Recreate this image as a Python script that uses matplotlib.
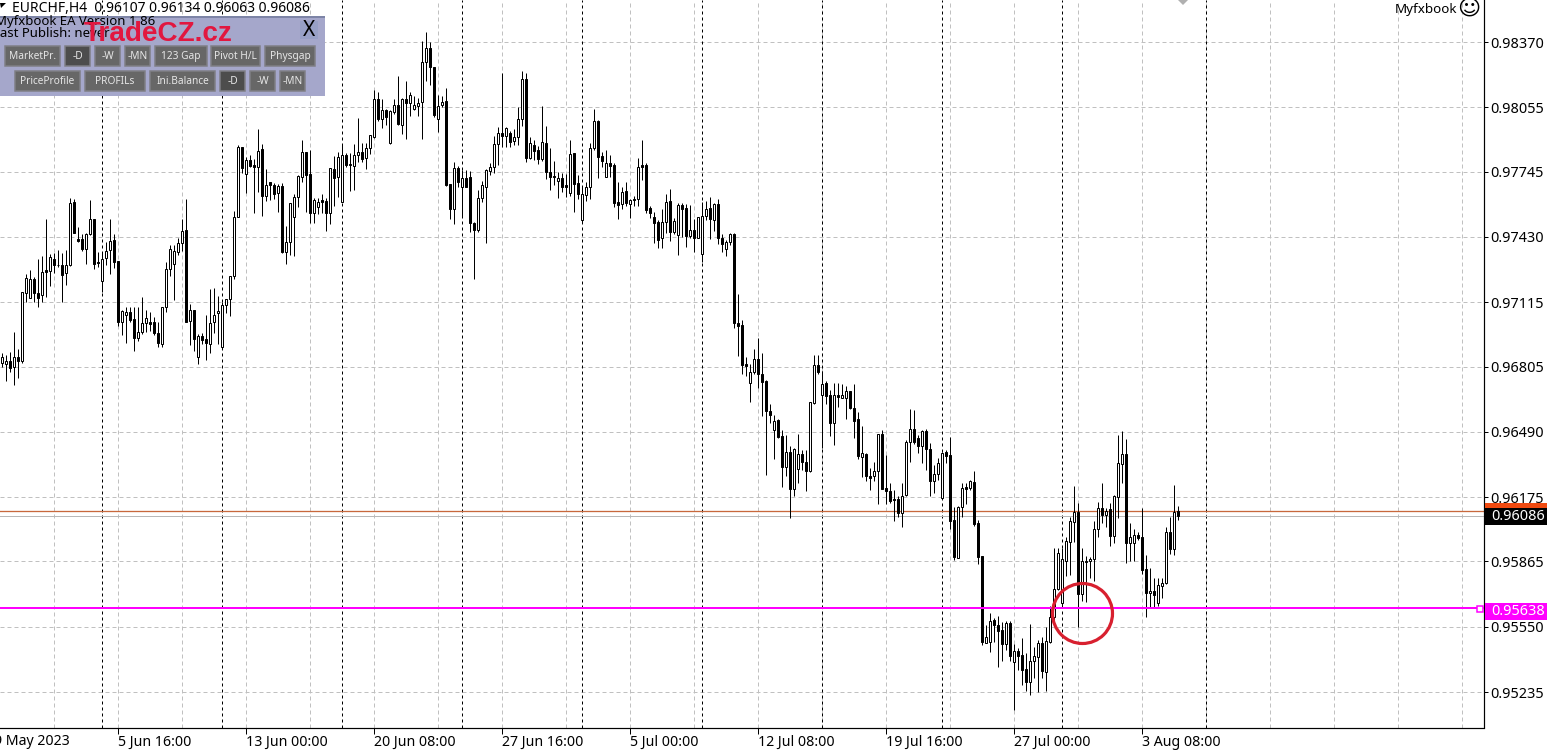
# -*- coding: utf-8 -*-
import matplotlib
matplotlib.use('Agg')
from matplotlib import pyplot as plt
from matplotlib.patches import Rectangle, Circle, Polygon

plt.rcParams['font.family'] = ['Noto Sans', 'DejaVu Sans']

# EURCHF H4 candles, prices in points (1e-5)
opens = [
    96823,96818,96834,96804,96849,96833,97162,97134,97225,97162,
    97148,97270,97264,97326,97297,97297,97254,97295,97597,97418,
    97418,97370,97442,97515,97307,97220,97330,97367,97415,97312,
    97021,97052,97066,97032,96942,96974,97013,97018,97018,96965,
    96916,97090,97277,97302,97359,97399,97466,97023,97080,96852,
    96952,96936,96916,97021,97061,96900,97100,97129,97244,97528,
    97862,97732,97801,97777,97769,97852,97627,97693,97683,97643,
    97675,97359,97407,97528,97621,97720,97838,97733,97547,97576,
    97606,97603,97547,97756,97720,97601,97824,97779,97774,97827,
    97838,97812,97857,97914,98094,97997,98042,97881,98033,98065,
    97971,98094,98078,98045,98061,98082,98275,98340,98248,97997,
    98065,98084,97685,97566,97761,97672,97716,97717,97499,97463,
    97616,97672,97750,97766,97877,97930,97917,97930,97894,97914,
    97997,98192,97812,97872,97849,97807,97881,97741,97722,97698,
    97714,97680,97643,97833,97688,97513,97634,97669,97857,97987,
    97820,97721,97785,97775,97598,97587,97650,97587,97614,97611,
    97775,97775,97568,97524,97502,97423,97500,97603,97455,97441,
    97584,97569,97436,97463,97423,97346,97532,97568,97513,97587,
    97423,97374,97406,97442,97016,97003,96816,96726,96778,96839,
    96771,96734,96591,96501,96545,96472,96321,96395,96212,96313,
    96381,96345,96299,96628,96813,96669,96728,96667,96534,96670,
    96654,96654,96685,96607,96550,96370,96382,96275,96275,96302,
    96482,96217,96206,96164,96164,96099,96185,96439,96506,96458,
    96423,96492,96405,96254,96289,96173,96391,96378,96065,95883,
    96129,96222,96219,96248,96049,95891,95473,95478,95581,95560,
    95534,95467,95570,95381,95433,95414,95344,95285,95386,95402,
    95473,95333,95478,95595,95730,95663,95869,95960,96057,96105,
    95706,95864,95865,95875,96020,96124,96090,96116,95989,96177,
    96333,96381,95955,95955,95991,95981,95827,95714,95724,95666,
    95746,95762,96005,95926,96107]
highs = [
    96868,96860,96873,96970,96892,97166,97251,97270,97235,97326,
    97338,97515,97346,97354,97367,97355,97367,97616,97611,97476,
    97444,97450,97608,97519,97359,97359,97407,97515,97444,97312,
    97077,97090,97093,97093,97093,97142,97077,97068,97045,97021,
    97090,97310,97392,97391,97423,97516,97611,97106,97080,96961,
    96968,97053,97180,97182,97145,97117,97132,97244,97555,97873,
    97865,97817,97825,97806,97950,97878,97756,97693,97688,97685,
    97688,97483,97592,97637,97728,97897,97838,97849,97616,97616,
    97637,97616,97765,97820,97838,97873,97836,97833,97877,98002,
    97881,97885,97920,98139,98131,98094,98045,98042,98094,98206,
    98098,98182,98129,98110,98098,98375,98417,98369,98248,98114,
    98111,98147,97685,97793,97772,97753,97753,97750,97502,97656,
    97700,97756,97788,97917,97959,98219,97959,97942,97949,98058,
    98230,98219,97910,97897,97868,98061,97965,97860,97796,97745,
    97737,97733,97897,97833,97729,97672,97696,97885,98045,97994,
    97841,97849,97825,97788,97696,97672,97696,97611,97627,97809,
    97897,97785,97579,97552,97512,97563,97637,97659,97520,97595,
    97595,97587,97584,97515,97528,97597,97605,97621,97592,97611,
    97443,97415,97450,97450,97157,97029,96849,96816,96892,96945,
    96868,96739,96624,96570,96553,96501,96474,96421,96410,96482,
    96402,96402,96635,96863,96860,96784,96736,96691,96726,96726,
    96723,96712,96685,96720,96587,96517,96386,96318,96344,96482,
    96498,96378,96241,96209,96183,96241,96453,96599,96595,96474,
    96498,96506,96434,96329,96366,96394,96402,96463,96126,96132,
    96245,96245,96258,96303,96065,95891,95558,95615,95590,95603,
    95574,95576,95578,95467,95446,95494,95422,95563,95454,95486,
    95502,95550,95650,95931,95928,95931,95984,96081,96229,96148,
    95928,95891,95888,96061,96153,96242,96124,96145,96185,96475,
    96494,96454,96049,96021,96008,96121,95896,95832,95783,95783,
    95783,96033,96078,96233,96134]
lows = [
    96804,96736,96780,96715,96748,96820,97117,97134,97117,97090,
    97117,97142,97195,97257,97283,97117,97198,97289,97447,97407,
    97363,97299,97439,97275,97286,97166,97294,97251,97278,97000,
    96957,96920,97021,96881,96929,96961,96973,96978,96957,96900,
    96900,97069,97241,97125,97342,97363,97021,96908,96881,96817,
    96913,96836,96871,96965,96913,96888,97061,97048,97225,97524,
    97737,97643,97769,97547,97648,97531,97605,97608,97613,97552,
    97354,97302,97343,97339,97576,97696,97552,97495,97499,97540,
    97544,97460,97492,97579,97621,97598,97769,97653,97656,97790,
    97793,97758,97830,97905,97991,97957,97970,97878,98023,97970,
    97926,97904,98013,98042,98013,97901,98184,98163,98010,97938,
    98058,97676,97516,97492,97669,97528,97669,97454,97225,97455,
    97600,97399,97729,97737,97777,97862,97862,97862,97873,97873,
    97965,97793,97804,97801,97782,97798,97712,97656,97680,97618,
    97648,97621,97627,97552,97611,97500,97605,97611,97849,97716,
    97769,97721,97721,97576,97516,97565,97579,97523,97579,97579,
    97704,97547,97520,97402,97375,97375,97447,97412,97444,97343,
    97428,97383,97423,97359,97423,97310,97512,97421,97460,97394,
    97358,97339,97390,96993,96857,96768,96760,96635,96768,96702,
    96567,96281,96534,96358,96458,96225,96276,96075,96181,96244,
    96305,96206,96297,96624,96771,96413,96624,96471,96426,96611,
    96653,96551,96599,96461,96357,96270,96254,96209,96254,96144,
    96212,96141,96148,96061,96080,96029,96180,96345,96431,96386,
    96341,96305,96180,96193,96257,96169,96341,96020,95872,95880,
    96081,96142,96209,96036,95852,95462,95470,95430,95478,95354,
    95386,95438,95386,95148,95341,95269,95242,95219,95301,95237,
    95301,95242,95473,95566,95727,95643,95795,95799,95960,95547,
    95674,95671,95787,95772,95984,96049,96033,95939,95952,96073,
    96242,95859,95867,95869,95968,95804,95598,95639,95647,95650,
    95687,95756,95901,95896,96063]
closes = [
    96849,96834,96799,96849,96833,97166,97230,97225,97162,97134,
    97262,97262,97331,97297,97295,97248,97297,97592,97447,97410,
    97370,97444,97515,97302,97305,97326,97363,97412,97310,97021,
    97074,97066,97029,96941,96974,97013,97037,97011,96965,96920,
    97090,97277,97373,97360,97399,97460,97021,97080,96936,96952,
    96933,96920,97016,97056,97071,97103,97129,97244,97528,97862,
    97765,97801,97772,97769,97844,97627,97683,97680,97635,97675,
    97357,97407,97592,97621,97724,97838,97730,97547,97608,97600,
    97600,97547,97761,97716,97814,97823,97777,97781,97827,97838,
    97804,97857,97920,98094,97997,98042,98007,98037,98065,97975,
    98094,98078,98113,98068,98078,98275,98340,98248,98018,98063,
    98082,97680,97566,97761,97697,97716,97672,97496,97463,97616,
    97679,97753,97766,97877,97930,97918,97954,97889,97914,97997,
    98192,97812,97881,97846,97807,97886,97741,97721,97721,97714,
    97672,97672,97828,97685,97639,97635,97669,97857,97987,97817,
    97798,97785,97774,97595,97585,97645,97595,97606,97608,97769,
    97769,97561,97547,97499,97415,97500,97600,97455,97508,97584,
    97566,97436,97462,97423,97524,97529,97563,97515,97587,97423,
    97395,97406,97442,97016,97001,96813,96808,96781,96839,96770,
    96731,96591,96572,96542,96466,96321,96395,96212,96405,96381,
    96345,96302,96632,96813,96778,96723,96664,96534,96670,96659,
    96669,96685,96604,96543,96374,96386,96276,96268,96302,96479,
    96215,96204,96157,96162,96099,96181,96439,96506,96439,96421,
    96492,96405,96254,96289,96342,96390,96375,96061,95888,96129,
    96217,96216,96251,96045,95888,95478,95499,95579,95560,95531,
    95467,95566,95409,95433,95409,95341,95285,95383,95410,95470,
    95338,95479,95595,95730,95904,95875,95963,96058,96105,95706,
    95865,95866,95875,96020,96124,96090,96110,95989,96179,96338,
    96381,95955,95981,95991,95979,95824,95714,95724,95705,95750,
    95762,96005,95925,96105,96086]

price_ticks = [0.98370, 0.98055, 0.97745, 0.97430, 0.97115, 0.96805,
               0.96490, 0.96175, 0.95865, 0.95550, 0.95235]
date_labels = ['29 May 2023', '5 Jun 16:00', '13 Jun 00:00', '20 Jun 08:00', '27 Jun 16:00',
               '5 Jul 00:00', '12 Jul 08:00', '19 Jul 16:00', '27 Jul 00:00', '3 Aug 08:00']
date_bars = [-3, 29, 61, 93, 125, 157, 189, 221, 253, 285]
grid_bars = [13 + 16 * k for k in range(23)]
period_bars = [25, 55, 85, 115, 145, 175, 205, 235, 265, 301]

ask_level, open_level, last_level = 0.95638, 0.96107, 0.96086

W, H = 1556, 753
px = 0.72  # one pixel in points at dpi 100
fig = plt.figure(figsize=(W / 100, H / 100), dpi=100)
ax = fig.add_axes([0, (H - 727.5) / H, 1483.5 / W, 727.5 / H])

# %% grid and separators
ax.set_axisbelow(True)
for p in price_ticks:
    ax.axhline(p, color='#c0c0c0', lw=px, ls=(0, (4, 3)), zorder=1)
for b in grid_bars:
    ax.axvline(b, color='#c0c0c0', lw=px, ls=(0, (4, 3)), zorder=1)
for b in period_bars:
    ax.axvline(b, color='black', lw=px, ls=(0, (3, 3)), zorder=1.5)

ax.axhline(last_level, color='#b8b8b8', lw=px, zorder=1.6)
ax.axhline(open_level, color='#c8683c', lw=px * 1.3, zorder=1.7)

# %% candles
bars = list(range(len(opens)))
o = [v / 1e5 for v in opens]
h = [v / 1e5 for v in highs]
l = [v / 1e5 for v in lows]
c = [v / 1e5 for v in closes]
ax.vlines(bars, l, h, color='black', lw=px, zorder=3)
for i in bars:
    up = c[i] >= o[i]
    ax.bar(i, max(abs(c[i] - o[i]), 1e-5), bottom=min(o[i], c[i]), width=0.5,
           facecolor='white' if up else 'black', edgecolor='black', linewidth=px, zorder=4)

ax.axhline(ask_level, color='#ff00ff', lw=px * 2, zorder=5)

# %% axes
ax.set_xlim(-0.5, 370.375)
ax.set_ylim(0.95064, 0.98573)
for s in ['left', 'top']:
    ax.spines[s].set_visible(False)
for s in ['right', 'bottom']:
    ax.spines[s].set_linewidth(px * 1.2)
ax.yaxis.tick_right()
ax.set_yticks(price_ticks)
ax.set_yticklabels(['%.5f' % p for p in price_ticks], fontsize=10.4)
ax.set_xticks(date_bars[1:])
ax.set_xticklabels(date_labels[1:], fontsize=10.2, ha='left')
ax.tick_params(axis='y', length=3, width=px, pad=2)
ax.tick_params(axis='x', length=4.5, width=px, pad=1)

# %% overlay in pixels
ov = fig.add_axes([0, 0, 1, 1], facecolor='none')
ov.set_xlim(0, W)
ov.set_ylim(H, 0)
ov.axis('off')

ov.text(-14, 745, date_labels[0], fontsize=10.2, va='baseline', ha='left')

ov.add_patch(Polygon([[0, 3], [6, 3], [1, 8]], color='black', lw=0))
ov.text(12, 12, 'EURCHF,H4  0.96107 0.96134 0.96063 0.96086', fontsize=10.0, va='baseline')

# panel
ov.add_patch(Rectangle((0, 17), 325, 79, facecolor='#a5a7cb', edgecolor='none', zorder=2))
ov.add_patch(Rectangle((0, 16), 325, 2, facecolor='#7d84a6', edgecolor='none', zorder=2))
btn_row1 = [('MarketPr.', 5, 55), ('-D', 65, 25), ('-W', 95, 25), ('-MN', 125, 25),
            ('123 Gap', 155, 52), ('Pivot H/L', 211, 49), ('Physgap', 265, 50)]
btn_row2 = [('PriceProfile', 15, 65), ('PROFILs', 85, 60), ('Ini.Balance', 150, 65),
            ('-D', 220, 25), ('-W', 250, 25), ('-MN', 280, 25)]
for row, top in [(btn_row1, 46), (btn_row2, 71)]:
    for name, x0, w0 in row:
        pressed = name == '-D'
        ov.add_patch(Rectangle((x0, top), w0, 20, facecolor='#4d4d4d' if pressed else '#676767',
                               edgecolor='#7f7f85', lw=px * 1.5, zorder=3))
        ov.text(x0 + w0 / 2, top + 10.5, name, color='#e6e6e6', fontsize=7.3,
                ha='center', va='center', zorder=4)
ov.add_patch(Rectangle((300, 21), 18, 18, facecolor='#98a0c6', edgecolor='none', zorder=3))
ov.text(309, 30.5, 'X', fontsize=15, ha='center', va='center', zorder=4)

ov.text(-5, 25, 'Myfxbook EA Version 1.86', fontsize=9.5, va='baseline', zorder=5)
ov.text(-7, 37, 'Last Publish: never', fontsize=9.5, va='baseline', zorder=5)
ov.text(84, 41, 'TradeCZ.cz', fontsize=20.1, fontweight='bold', color='#e2173f',
        family='Liberation Sans', va='baseline', zorder=6)

# top right
ov.text(1395, 13, 'Myfxbook', fontsize=9.7, va='baseline')
ov.text(1469, 9, '\u263a', fontsize=16, family='DejaVu Sans', ha='center', va='center')
ov.add_patch(Polygon([[1178, 0], [1188, 0], [1183, 5]], color='#b0b0b0', lw=0))

# price labels
for txt, fc, top, tc in [('0.96107', '#f04a10', 503, '#f04a10'),
                         ('0.96086', 'black', 508, 'white'),
                         ('0.95638', '#ff00ff', 603, 'white')]:
    ov.add_patch(Rectangle((1485, top), 62, 17, facecolor=fc, edgecolor='none', zorder=7))
    ov.text(1491, top + 8.5, txt, color=tc, fontsize=10.4, va='center', zorder=7)
ov.add_patch(Rectangle((1477, 606), 6, 6, facecolor='white', edgecolor='#ff00ff', lw=px * 1.5, zorder=7))

# red circle
ov.add_patch(Circle((1082.5, 613.5), 30, facecolor='none', edgecolor='#d8202f', lw=px * 3.2, zorder=8))

fig.savefig('out.png', dpi=100)
